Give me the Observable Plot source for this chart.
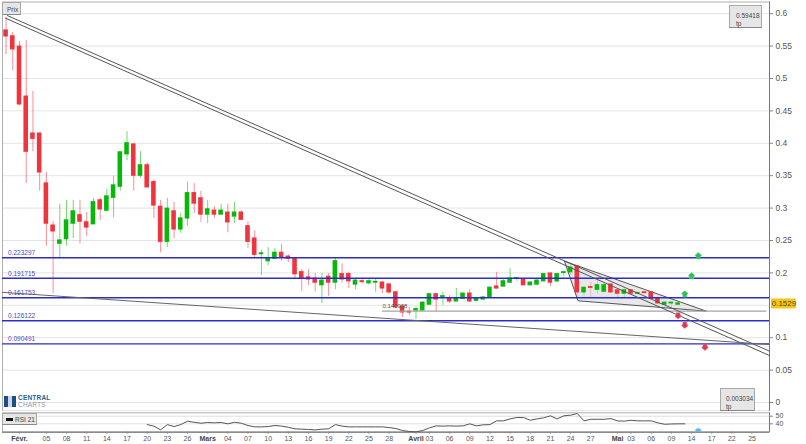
<!DOCTYPE html>
<html><head><meta charset="utf-8">
<script src="https://cdn.jsdelivr.net/npm/d3@7"></script>
<script src="https://cdn.jsdelivr.net/npm/@observablehq/plot@0.6"></script>
<style>
html,body{margin:0;padding:0;background:#fff;}
#wrap{position:relative;width:806px;height:444px;overflow:hidden;font-family:"Liberation Sans",Arial,sans-serif;}
#wrap svg{display:block;background:transparent;}
.box{position:absolute;box-sizing:border-box;background:#e6e6e6;border:1px solid #a8a8a8;border-bottom:1.5px solid #888;color:#444;font-size:6.5px;line-height:8px;}
.logo{position:absolute;left:4px;top:395px;width:52px;height:14px;}
.logo i{position:absolute;left:0;top:1px;width:12px;height:11px;background:linear-gradient(90deg,#1d4f86 0 30%,#cfd8e3 30% 70%,#1d4f86 70%);}
.logo b{position:absolute;left:14px;top:0;font-size:6.5px;line-height:6.5px;color:#2b5f95;letter-spacing:.2px;}
.logo span{position:absolute;left:14px;top:7px;font-size:6.5px;line-height:6.5px;color:#8a9bb0;letter-spacing:.2px;}
</style></head><body><div id="wrap"></div>
<script>
// --- data ---
const firstDay = -2; // 30 Jan, day 0 = 1 Feb
const opens = [
.574,.565,.549,.472,.415,.415,.338,.273,.245,.252,
.276,.289,.278,.275,.312,.296,.316,.333,.383,.398,
.350,.366,.340,.302,.248,.295,.267,.284,.323,.315,
.290,.296,.290,.293,.287,.293,.272,.253,.229,.218,
.222,.231,.225,.222,.201,.193,.191,.181,.194,.185,
.198,.198,.182,.187,.184,.185,.185,.182,.170,.148,
.140,.142,.142,.151,.167,.163,.160,.156,.160,.168,
.157,.159,.162,.179,.179,.185,.191,.190,.181,.182,
.187,.199,.187,.200,.201,.210,.170,.178,.174,.171,
.182,.173,.168,.173,.168,.170,.170,.160,.151,.153,.151];
const closes = [
.565,.545,.460,.387,.407,.355,.276,.264,.250,.281,
.295,.279,.270,.309,.298,.318,.335,.386,.400,.350,
.366,.332,.304,.248,.299,.267,.284,.323,.307,.290,
.298,.290,.296,.278,.293,.282,.248,.228,.230,.222,
.231,.224,.222,.198,.191,.190,.185,.188,.185,.218,
.190,.187,.188,.186,.187,.186,.176,.170,.147,.139,
.139,.144,.154,.167,.159,.164,.156,.160,.168,.156,
.160,.162,.177,.176,.187,.191,.192,.181,.185,.188,
.198,.185,.198,.201,.208,.170,.177,.177,.181,.181,
.170,.168,.173,.168,.169,.169,.160,.153,.154,.154,.1529];
const highs = [
.594,.571,.557,.559,.480,.415,.355,.279,.306,.312,
.312,.312,.293,.315,.315,.329,.349,.386,.418,.400,
.387,.370,.343,.312,.315,.309,.292,.340,.338,.326,
.312,.302,.306,.306,.309,.296,.279,.265,.235,.239,
.238,.244,.228,.222,.205,.205,.199,.199,.199,.222,
.214,.201,.190,.191,.191,.191,.186,.184,.170,.150,
.147,.147,.155,.168,.168,.170,.165,.176,.168,.174,
.161,.163,.178,.201,.191,.207,.193,.191,.186,.190,
.199,.199,.199,.202,.214,.211,.178,.185,.190,.184,
.184,.175,.176,.174,.170,.171,.171,.163,.155,.155,.155];
const lows = [
.537,.512,.458,.338,.387,.326,.241,.168,.222,.241,
.253,.245,.256,.275,.281,.296,.285,.326,.373,.326,
.346,.332,.284,.231,.239,.253,.261,.272,.292,.278,
.276,.284,.290,.262,.276,.282,.238,.222,.196,.211,
.222,.218,.216,.191,.171,.181,.171,.153,.164,.174,
.184,.176,.174,.183,.181,.170,.168,.167,.146,.131,
.134,.128,.142,.151,.140,.150,.153,.156,.160,.155,
.156,.158,.161,.175,.179,.185,.187,.180,.180,.181,
.186,.179,.185,.194,.196,.160,.160,.162,.168,.170,
.169,.160,.162,.167,.166,.168,.159,.151,.149,.146,.149];
const levels = [0.223297,0.191715,0.161753,0.126122,0.090491];
const levelLabels = ["0.223297","0.191715","0.161753","0.126122","0.090491"];
const supportValue = 0.140908, supportLabel = "0.140908", supportDays = [54,111.2];
const trendUpper = [[-1.79,.597],[111.6,.0792]];
const trendLower = [[-2.08,.593],[111.6,.0725]];
const trendThin  = [[-2.53,.170],[111.6,.0895]];
const triangle   = [[81.1,.218],[102.2,.141],[83.1,.157]];
const greenArrows = [[101,.2264],[100,.1955],[99,.1677]];
const redArrows   = [[98,.1337],[99,.1193],[102,.0853]];
const lastPrice = 0.1529;
const rsiFirstDay = 19;
const rsiValues = [39,37,32,39,36.4,39,43.4,42,40.8,41.7,41.3,41.7,40,42,40.8,37.8,36,36,
36.4,37.8,37,35.5,33.4,33,32.6,32,33,33.4,39,37,36,36,36,36,36,36,35.1,33.8,31.2,29.9,29.5,31.2,
34.7,37.3,37,37.3,37,37.3,40,37.3,38.7,39,43.9,43.9,46.5,48.3,48.3,44.7,46.5,47.9,50.5,46.5,50.5,51.4,53.5,
43.9,46,46,46,46.9,43.9,43.5,44.7,43.9,43.9,43.9,41.3,39.4,39.8,40,40];
const rsiDot = [[101,30.2]];
const yTicks = [0,.05,.1,.15,.2,.25,.3,.35,.4,.45,.5,.55,.6];
const yLabelTicks = [0,.05,.1,.2,.25,.3,.35,.4,.45,.5,.55,.6]; // 0.15 sits under the price tag
const rsiTicks = [40,50];
const dayTicks  = [4,7,10,13,16,19,22,25,31,34,37,40,43,46,49,52,55,61,64,67,70,73,76,79,82,85,91,94,97,100,103,106,109];
const dayLabels = ["05","08","11","14","17","20","23","26","04","07","10","13","16","19","22","25","28","03","06","09","12","15","18","21","24","27","03","06","09","14","17","22","25"];
const monthTicks  = [0,28,59,89];
const monthLabels = ["Févr.","Mars","Avril","Mai"];
const RED="#f1333d", GREEN="#08b808", BLUE="#2c2cc8", LINE="#555";
const FONT='"Liberation Sans",Arial,sans-serif';
const candles = opens.map((o,i)=>({day:firstDay+i,o,c:closes[i],h:highs[i],l:lows[i],up:closes[i]>o}));
const rsi = rsiValues.map((v,i)=>({day:rsiFirstDay+i,v}));
const xDomain=[-2.53,111.6];
const lineMark=(pts,o={})=>Plot.line(pts,{x:"0",y:"1",stroke:LINE,strokeWidth:1,...o});
const arrowUp={draw(c,s){const r=Math.sqrt(s)/2;c.moveTo(0,-r);c.lineTo(r,-r*.15);c.lineTo(r*.6,r*.4);c.lineTo(r*.6,r);c.lineTo(-r*.6,r);c.lineTo(-r*.6,r*.4);c.lineTo(-r,-r*.15);c.closePath();}};
const arrowDown={draw(c,s){const r=Math.sqrt(s)/2;c.moveTo(0,r);c.lineTo(r,r*.15);c.lineTo(r*.6,-r*.4);c.lineTo(r*.6,-r);c.lineTo(-r*.6,-r);c.lineTo(-r*.6,-r*.4);c.lineTo(-r,r*.15);c.closePath();}};

const main = Plot.plot({
  width:806,height:411,marginLeft:2,marginRight:37,marginTop:1.5,marginBottom:.3,
  style:{fontFamily:FONT,background:"transparent"},
  x:{type:"linear",domain:xDomain,axis:null},
  y:{type:"linear",domain:[-0.0134,.618],axis:null},
  marks:[
    Plot.gridY(yTicks,{stroke:"#e4e4e4",strokeOpacity:1}),
    Plot.axisY({anchor:"right",ticks:yLabelTicks,tickFormat:d=>String(d),tickSize:3,tickPadding:3,fontSize:8.5,color:"#555",stroke:"#888",label:null}),
    Plot.frame({stroke:"#b0b0b0"}),
    Plot.ruleX([xDomain[1]],{stroke:"#777"}),
    Plot.ruleX(candles,{x:"day",y1:"l",y2:"h",stroke:d=>d.up?GREEN:RED,strokeOpacity:.55,strokeWidth:1}),
    Plot.line([...triangle,triangle[0]],{x:"0",y:"1",stroke:LINE,strokeWidth:1,fill:"#d8d8d8",fillOpacity:.6}),
    Plot.rect(candles,{x1:d=>d.day-.34,x2:d=>d.day+.34,y1:"o",y2:"c",fill:d=>d.up?GREEN:RED,insetTop:-.6,insetBottom:-.6}),
    Plot.ruleY([supportValue],{x1:supportDays[0],x2:supportDays[1],stroke:"#a4a4a4",strokeWidth:1.2}),
    Plot.ruleY(levels,{stroke:BLUE,strokeWidth:1.4,x1:xDomain[0],x2:xDomain[1]}),
    lineMark(trendUpper),lineMark(trendLower),lineMark(trendThin,{stroke:"#666"}),
    Plot.text(levels,{x:()=>-1.7,y:d=>d,text:(d,i)=>levelLabels[i],textAnchor:"start",dy:-4.5,fontSize:6.5,fill:"#4a4ac8"}),
    Plot.text([supportValue],{x:()=>supportDays[0],y:d=>d,text:()=>supportLabel,textAnchor:"start",dy:-5,fontSize:6,fill:"#555"}),
    Plot.dot(greenArrows,{x:"0",y:"1",symbol:arrowUp,r:3.6,fill:"#2fbd55",stroke:"#5fd07f",strokeWidth:.6}),
    Plot.dot(redArrows,{x:"0",y:"1",symbol:arrowDown,r:3.6,fill:"#d83a50",stroke:"#e07080",strokeWidth:.6}),
    Plot.ruleY([lastPrice],{x1:111.9,x2:115.6,stroke:"#f4c51f",strokeWidth:10}),
    Plot.text([lastPrice],{x:()=>113.75,y:d=>d,text:d=>String(d),fontSize:8,fill:"#5a4a00"})
  ]
});
const sub = Plot.plot({
  width:806,height:33,marginLeft:2,marginRight:37,marginTop:1.3,marginBottom:12.3,
  style:{fontFamily:FONT,background:"transparent"},
  x:{type:"linear",domain:xDomain,axis:null},
  y:{type:"linear",domain:[29,54.5],axis:null},
  marks:[
    Plot.gridY(rsiTicks,{stroke:"#e0e0e0",strokeOpacity:1}),
    Plot.frame({stroke:"#b0b0b0"}),
    Plot.ruleY([29],{stroke:"#777",strokeWidth:1.3}),
    Plot.ruleX([xDomain[1]],{stroke:"#777"}),
    Plot.line(rsi,{x:"day",y:"v",stroke:"#555",strokeWidth:1}),
    Plot.dot(rsiDot,{x:"0",y:"1",r:3,fill:"#58bde8",stroke:"#8fd4f0",strokeWidth:.6,clip:"frame"}),
    Plot.axisY({anchor:"right",ticks:rsiTicks,tickFormat:String,tickSize:3,tickPadding:3,fontSize:7,color:"#555",stroke:"#888",label:null}),
    Plot.axisX({ticks:dayTicks,tickFormat:d=>dayLabels[dayTicks.indexOf(d)],anchor:"bottom",tickSize:2,tickPadding:1.5,fontSize:7,color:"#555",stroke:"#888",label:null}),
    Plot.axisX({ticks:monthTicks,tickFormat:d=>monthLabels[monthTicks.indexOf(d)],anchor:"bottom",tickSize:2,tickPadding:1.5,fontSize:7,fontWeight:"bold",color:"#444",stroke:"#888",label:null})
  ]
});
const wrap=document.getElementById("wrap");
wrap.append(main,sub);
function box(l,t,w,h,html,extra=""){const d=document.createElement("div");d.className="box";d.style.cssText=`left:${l}px;top:${t}px;width:${w}px;height:${h}px;${extra}`;d.innerHTML=html;wrap.append(d);}
box(2,2,19,12.5,'Prix','padding:2.5px 0 0 4px;');
box(729,5,33,23,'0.59418<br>tp','padding:6px 0 0 6px;');
box(720,388,35,23,'0.003034<br>tp','padding:6px 0 0 5px;');
box(2,413,35,12,'<span style="display:inline-block;width:7px;height:3px;background:#111;vertical-align:1px;margin-right:2px"></span>RSI 21','padding:1.5px 0 0 3px;');
const lg=document.createElement("div");lg.className="logo";lg.innerHTML='<i></i><b>CENTRAL</b><span>CHARTS</span>';wrap.append(lg);
</script></body></html>
